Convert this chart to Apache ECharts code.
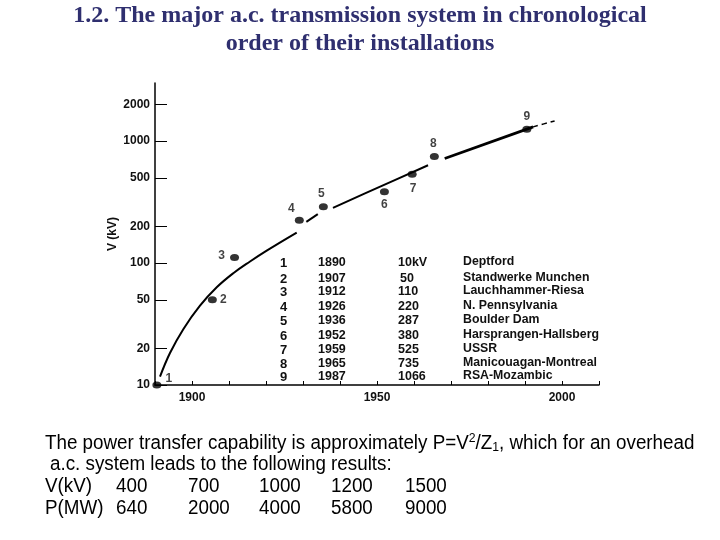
<!DOCTYPE html>
<html>
<head>
<meta charset="utf-8">
<script src="https://cdn.jsdelivr.net/npm/echarts@6/dist/echarts.min.js"></script>
<style>
  html, body { margin: 0; padding: 0; background: #fff; }
  #main { width: 720px; height: 540px; }
</style>
</head>
<body>
<div id="main"></div>
<script>
// installations as plotted (year, kV)
var pointIds = ['1', '2', '3', '4', '5', '6', '7', '8', '9'];
var pointYears = [1890.5, 1905.5, 1911.5, 1929, 1935.5, 1952, 1959.5, 1965.5, 1990.5];
var pointKV = [10, 50, 111, 225, 290, 385, 535, 750, 1250];

// trend curve, drawn in pieces like the original sketch
var curveA = [[1891.35, 11.7], [1894.05, 18.3], [1897.65, 28.7], [1902.16, 44.7], [1906.68, 63.3],
              [1911.16, 82.6], [1915.68, 103.1], [1920.19, 126.6], [1928.3, 178]];
var curveB = [[1930.9, 218], [1934.0, 252]];
var curveC = [[1938.1, 284], [1950.7, 422], [1963.8, 635]];
var curveD = [[1968.3, 721], [1992.2, 1310]];
var curveE = [[1992.2, 1310], [1998.0, 1466]];

var yTicks = [10, 20, 50, 100, 200, 500, 1000, 2000];
var xLabels = [1900, 1950, 2000];

// table printed inside the plot
var tableNo = ['1', '2', '3', '4', '5', '6', '7', '8', '9'];
var tableYear = ['1890', '1907', '1912', '1926', '1936', '1952', '1959', '1965', '1987'];
var tableKV = ['10kV', '50', '110', '220', '287', '380', '525', '735', '1066'];
var tableName = ['Deptford', 'Standwerke Munchen', 'Lauchhammer-Riesa', 'N. Pennsylvania', 'Boulder Dam',
                 'Harsprangen-Hallsberg', 'USSR', 'Manicouagan-Montreal', 'RSA-Mozambic'];

// results below the chart
var resV = ['400', '700', '1000', '1200', '1500'];
var resP = ['640', '2000', '4000', '5800', '9000'];

var labelPos = [[12, -6], [11, 0], [-13, -2], [-8, -11], [-2, -13], [0, 13], [1, 14], [-1, -13], [0, -13]];

var myChart = echarts.init(document.getElementById('main'));

var font = 'Liberation Sans, Arial, sans-serif';
var graphics = [];
var rowY = [263, 279, 292, 307, 321, 336, 350, 364, 377];
for (var i = 0; i < tableNo.length; i++) {
    graphics.push({ type: 'text', x: 280, y: rowY[i],
        style: { text: tableNo[i], font: 'bold 13px ' + font, fill: '#111', verticalAlign: 'middle' } });
    graphics.push({ type: 'text', x: 318, y: rowY[i],
        style: { text: tableYear[i], font: 'bold 12.5px ' + font, fill: '#111', verticalAlign: 'middle' } });
    graphics.push({ type: 'text', x: 398 + (i === 1 ? 2 : 0), y: rowY[i],
        style: { text: tableKV[i], font: 'bold 12.5px ' + font, fill: '#111', verticalAlign: 'middle' } });
    graphics.push({ type: 'text', x: 463, y: rowY[i] - 1,
        style: { text: tableName[i], font: 'bold 12.3px ' + font, fill: '#111', verticalAlign: 'middle' } });
}

// bottom paragraph
var bodyFont = '20px ' + font;
function bodyText(x, y, txt, rich) {
    var st = { text: txt, font: bodyFont, fill: '#000', verticalAlign: 'middle' };
    if (rich) st.rich = rich;
    graphics.push({ type: 'text', x: x, y: y, scaleX: 0.94, style: st });
}
bodyText(45, 443, 'The power transfer capability is approximately P=V{sup|2}/Z{sub|1}, which for an overhead', {
    sup: { fontSize: 13, verticalAlign: 'top', padding: [0, 0, 9, 0], fontFamily: font },
    sub: { fontSize: 13, verticalAlign: 'bottom', padding: [9, 0, 0, 0], fontFamily: font }
});
bodyText(50, 464, 'a.c. system leads to the following results:');
bodyText(45, 486, 'V(kV)');
bodyText(45, 508, 'P(MW)');
var colX = [116, 188, 259, 331, 405];
for (var j = 0; j < resV.length; j++) {
    bodyText(colX[j], 486, resV[j]);
    bodyText(colX[j], 508, resP[j]);
}

var points = pointYears.map(function (y, i) {
    return {
        value: [y, pointKV[i]],
        label: { show: true, formatter: pointIds[i], position: 'inside', offset: labelPos[i] }
    };
});

function seg(data, dashed, width) {
    return {
        type: 'line', data: data, smooth: 0.4, showSymbol: false, silent: true,
        lineStyle: { color: '#000', width: width || 2, type: dashed ? [5, 4] : 'solid' },
        z: 2
    };
}

myChart.setOption({
    animation: false,
    title: {
        text: '1.2. The major a.c. transmission system in chronological\norder of their installations',
        left: 'center', top: 2, padding: 0,
        textStyle: {
            fontFamily: 'Liberation Serif, Times New Roman, serif', fontWeight: 'bold',
            fontSize: 24, color: '#2f2f6f', lineHeight: 28
        }
    },
    grid: { left: 155, right: 121, top: 83, bottom: 155 },
    xAxis: {
        type: 'value', min: 1890, max: 2010, interval: 10,
        axisLine: { lineStyle: { color: '#000', width: 1.5 } },
        axisTick: { inside: true, length: 4, lineStyle: { color: '#000' } },
        axisLabel: {
            margin: 7, color: '#111', fontSize: 12, fontWeight: 'bold', fontFamily: font,
            formatter: function (v) { return xLabels.indexOf(v) >= 0 ? String(v) : ''; }
        },
        splitLine: { show: false }
    },
    yAxis: {
        type: 'log', logBase: 10, min: 10, max: 3000,
        name: 'V (kV)', nameLocation: 'middle', nameGap: 36, nameRotate: 90, nameMoveOverlap: false,
        nameTextStyle: { color: '#111', fontSize: 12, fontWeight: 'bold', fontFamily: font },
        axisLine: { show: true, lineStyle: { color: '#000', width: 1.5 } },
        axisTick: { inside: true, length: 12, customValues: yTicks, lineStyle: { color: '#000' } },
        axisLabel: { margin: 5, color: '#111', fontSize: 12, fontWeight: 'bold', fontFamily: font,
            customValues: yTicks, formatter: function (v) { return String(v); } },
        splitLine: { show: false },
        minorTick: { show: false }
    },
    series: [
        seg(curveA, false, 2),
        seg(curveB, false, 2),
        seg(curveC, false, 2),
        seg(curveD, false, 2.8),
        seg(curveE, true, 1.5),
        {
            type: 'scatter', data: points, symbol: 'circle', symbolSize: [9, 7],
            itemStyle: { color: '#000' }, clip: false, z: 3,
            label: { color: '#111', fontSize: 12, fontWeight: 'bold', fontFamily: font }
        }
    ],
    graphic: graphics
});
</script>
</body>
</html>
